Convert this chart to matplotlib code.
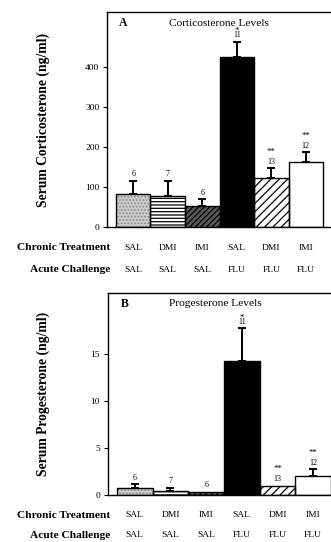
import numpy as np
import matplotlib
matplotlib.use('Agg')
import matplotlib.pyplot as plt
from matplotlib.transforms import blended_transform_factory

plt.rcParams['font.family'] = 'Liberation Serif'
plt.rcParams['hatch.linewidth'] = 0.9

# data
chronic = ['SAL', 'DMI', 'IMI', 'SAL', 'DMI', 'IMI']
acute = ['SAL', 'SAL', 'SAL', 'FLU', 'FLU', 'FLU']
n_rats = [6, 7, 6, 11, 13, 12]
signif = ['', '', '', '*', '**', '**']

cort_mean = [82, 78, 52, 426, 124, 164]
cort_sem = [34, 38, 18, 38, 23, 23]

prog_mean = [0.71, 0.46, 0.35, 14.2, 0.99, 2.05]
prog_sem = [0.42, 0.32, 0.0, 3.5, 0.0, 0.68]

# bar styles: face, hatch, hatch colour
styles = [('#cdcdcd', '.....', '#8a8a8a'),
          ('white', '-----', 'black'),
          ('#5a5a5a', '//////', 'black'),
          ('black', '', 'black'),
          ('white', '////', 'black'),
          ('white', '', 'black')]
star_off = {'*': 7.5, '**': 12}

W, H = 331.0, 542.0
fig = plt.figure(figsize=(W / 100, H / 100), dpi=100)


def panel(rect_px, ylim, xlim, mean, sem, yticks, ylabel, letter, title, title_px, rows_px):
    left, top, right, bottom = rect_px
    ax = fig.add_axes([left / W, 1 - bottom / H, (right - left) / W, (bottom - top) / H])
    x = np.arange(len(mean))
    for i in range(len(mean)):
        fc, hatch, hc = styles[i]
        ax.bar(x[i], mean[i], width=1.0, color=fc, hatch=hatch, edgecolor=hc,
               linewidth=0, zorder=2)
    ax.bar(x, mean, width=1.0, fill=False, edgecolor='black', linewidth=1.0, zorder=3)
    mean = np.array(mean)
    sem = np.array(sem)
    m = sem > 0
    ax.errorbar(x[m], mean[m], yerr=[np.zeros(m.sum()), sem[m]], fmt='none',
                ecolor='black', elinewidth=1.4, capsize=3, capthick=1.4, zorder=4)
    for i in range(len(mean)):
        top_v = mean[i] + sem[i]
        ax.annotate(str(n_rats[i]), (x[i], top_v), xytext=(0, 4.6), textcoords='offset points',
                    ha='center', va='center', fontsize=5.8)
        if signif[i]:
            ax.annotate(signif[i], (x[i], top_v), xytext=(0, star_off[signif[i]]),
                        textcoords='offset points', ha='center', va='center', fontsize=6.3)
    ax.set_xlim(*xlim)
    ax.set_ylim(*ylim)
    ax.set_xticks([])
    ax.set_yticks(yticks)
    ax.tick_params(axis='y', direction='out', length=3, width=0.8, labelsize=6.8, pad=2.5)
    ax.spines['right'].set_visible(False)
    for s in ['left', 'top', 'bottom']:
        ax.spines[s].set_linewidth(1.0)
    ax.set_ylabel(ylabel, fontsize=9.8, fontweight='bold')
    ax.yaxis.set_label_coords((50 - left) / (right - left), 0.5)

    fig.text(title_px[0] / W, 1 - title_px[2] / H, letter, fontsize=8.5, fontweight='bold',
             ha='center', va='center')
    fig.text(title_px[1] / W, 1 - title_px[2] / H, title, fontsize=8.2, ha='center', va='center')

    tr = blended_transform_factory(ax.transData, fig.transFigure)
    r1, r2 = rows_px
    fig.text(110 / W, 1 - r1 / H, 'Chronic Treatment', fontsize=8.2, fontweight='bold',
             ha='right', va='center')
    fig.text(110 / W, 1 - r2 / H, 'Acute Challenge', fontsize=8.2, fontweight='bold',
             ha='right', va='center')
    for i in range(len(mean)):
        ax.text(x[i], 1 - r1 / H, chronic[i], transform=tr, fontsize=6.8,
                ha='center', va='center')
        ax.text(x[i], 1 - r2 / H, acute[i], transform=tr, fontsize=6.8,
                ha='center', va='center')
    return ax


panel((107, 12, 331, 227.3), (0, 538), (-0.76, 5.73), cort_mean, cort_sem,
      [0, 100, 200, 300, 400], 'Serum Corticosterone (ng/ml)', 'A',
      'Corticosterone Levels', (123.5, 218.5, 23), (248, 270))
panel((107.7, 292.7, 331, 495), (0, 21.45), (-0.76, 5.5), prog_mean, prog_sem,
      [0, 5, 10, 15], 'Serum Progesterone (ng/ml)', 'B',
      'Progesterone Levels', (125, 215, 304), (515, 535))

fig.savefig('out.png', dpi=100)
